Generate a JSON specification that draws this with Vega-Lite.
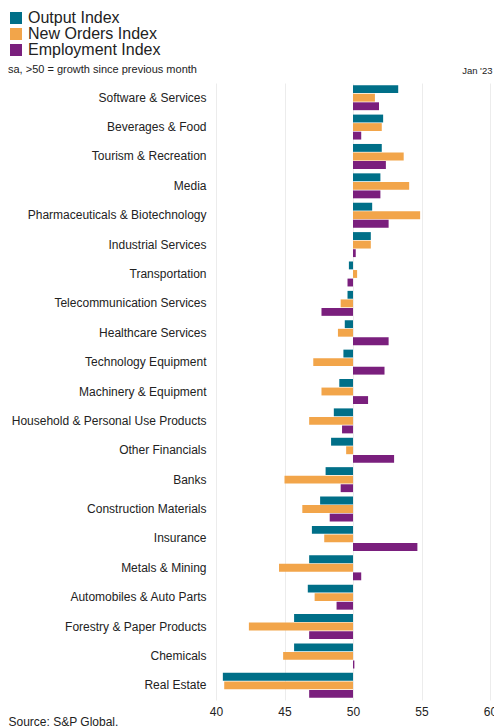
{
  "$schema": "https://vega.github.io/schema/vega-lite/v6.json",
  "width": 274,
  "height": 617,
  "autosize": {"type": "none"},
  "padding": {"left": 216, "top": 83, "right": 4, "bottom": 28},
  "background": "white",
  "config": {
    "font": "Liberation Sans",
    "view": {"stroke": null}
  },
  "data": {
    "values": [
      {"category": "Software & Services", "series": "Output Index", "value": 53.3},
      {"category": "Software & Services", "series": "New Orders Index", "value": 51.6},
      {"category": "Software & Services", "series": "Employment Index", "value": 51.9},
      {"category": "Beverages & Food", "series": "Output Index", "value": 52.2},
      {"category": "Beverages & Food", "series": "New Orders Index", "value": 52.1},
      {"category": "Beverages & Food", "series": "Employment Index", "value": 50.6},
      {"category": "Tourism & Recreation", "series": "Output Index", "value": 52.1},
      {"category": "Tourism & Recreation", "series": "New Orders Index", "value": 53.7},
      {"category": "Tourism & Recreation", "series": "Employment Index", "value": 52.4},
      {"category": "Media", "series": "Output Index", "value": 52.0},
      {"category": "Media", "series": "New Orders Index", "value": 54.1},
      {"category": "Media", "series": "Employment Index", "value": 52.0},
      {"category": "Pharmaceuticals & Biotechnology", "series": "Output Index", "value": 51.4},
      {"category": "Pharmaceuticals & Biotechnology", "series": "New Orders Index", "value": 54.9},
      {"category": "Pharmaceuticals & Biotechnology", "series": "Employment Index", "value": 52.6},
      {"category": "Industrial Services", "series": "Output Index", "value": 51.3},
      {"category": "Industrial Services", "series": "New Orders Index", "value": 51.3},
      {"category": "Industrial Services", "series": "Employment Index", "value": 50.2},
      {"category": "Transportation", "series": "Output Index", "value": 49.7},
      {"category": "Transportation", "series": "New Orders Index", "value": 50.3},
      {"category": "Transportation", "series": "Employment Index", "value": 49.6},
      {"category": "Telecommunication Services", "series": "Output Index", "value": 49.6},
      {"category": "Telecommunication Services", "series": "New Orders Index", "value": 49.1},
      {"category": "Telecommunication Services", "series": "Employment Index", "value": 47.7},
      {"category": "Healthcare Services", "series": "Output Index", "value": 49.4},
      {"category": "Healthcare Services", "series": "New Orders Index", "value": 48.9},
      {"category": "Healthcare Services", "series": "Employment Index", "value": 52.6},
      {"category": "Technology Equipment", "series": "Output Index", "value": 49.3},
      {"category": "Technology Equipment", "series": "New Orders Index", "value": 47.1},
      {"category": "Technology Equipment", "series": "Employment Index", "value": 52.3},
      {"category": "Machinery & Equipment", "series": "Output Index", "value": 49.0},
      {"category": "Machinery & Equipment", "series": "New Orders Index", "value": 47.7},
      {"category": "Machinery & Equipment", "series": "Employment Index", "value": 51.1},
      {"category": "Household & Personal Use Products", "series": "Output Index", "value": 48.6},
      {"category": "Household & Personal Use Products", "series": "New Orders Index", "value": 46.8},
      {"category": "Household & Personal Use Products", "series": "Employment Index", "value": 49.2},
      {"category": "Other Financials", "series": "Output Index", "value": 48.4},
      {"category": "Other Financials", "series": "New Orders Index", "value": 49.5},
      {"category": "Other Financials", "series": "Employment Index", "value": 53.0},
      {"category": "Banks", "series": "Output Index", "value": 48.0},
      {"category": "Banks", "series": "New Orders Index", "value": 45.0},
      {"category": "Banks", "series": "Employment Index", "value": 49.1},
      {"category": "Construction Materials", "series": "Output Index", "value": 47.6},
      {"category": "Construction Materials", "series": "New Orders Index", "value": 46.3},
      {"category": "Construction Materials", "series": "Employment Index", "value": 48.3},
      {"category": "Insurance", "series": "Output Index", "value": 47.0},
      {"category": "Insurance", "series": "New Orders Index", "value": 47.9},
      {"category": "Insurance", "series": "Employment Index", "value": 54.7},
      {"category": "Metals & Mining", "series": "Output Index", "value": 46.8},
      {"category": "Metals & Mining", "series": "New Orders Index", "value": 44.6},
      {"category": "Metals & Mining", "series": "Employment Index", "value": 50.6},
      {"category": "Automobiles & Auto Parts", "series": "Output Index", "value": 46.7},
      {"category": "Automobiles & Auto Parts", "series": "New Orders Index", "value": 47.2},
      {"category": "Automobiles & Auto Parts", "series": "Employment Index", "value": 48.8},
      {"category": "Forestry & Paper Products", "series": "Output Index", "value": 45.7},
      {"category": "Forestry & Paper Products", "series": "New Orders Index", "value": 42.4},
      {"category": "Forestry & Paper Products", "series": "Employment Index", "value": 46.8},
      {"category": "Chemicals", "series": "Output Index", "value": 45.7},
      {"category": "Chemicals", "series": "New Orders Index", "value": 44.9},
      {"category": "Chemicals", "series": "Employment Index", "value": 50.1},
      {"category": "Real Estate", "series": "Output Index", "value": 40.5},
      {"category": "Real Estate", "series": "New Orders Index", "value": 40.6},
      {"category": "Real Estate", "series": "Employment Index", "value": 46.8}
    ]
  },
  "mark": {"type": "bar", "orient": "horizontal"},
  "encoding": {
    "y": {
      "field": "category",
      "type": "nominal",
      "sort": null,
      "scale": {"paddingInner": 0.15, "paddingOuter": 0.075},
      "axis": {
        "title": "Jan '23",
        "titleAngle": 0,
        "titleAlign": "right",
        "titleBaseline": "alphabetic",
        "titleX": 276,
        "titleY": -10,
        "titleFontSize": 9.5,
        "titleFontWeight": "normal",
        "titleColor": "#222",
        "labelFontSize": 12,
        "labelColor": "#222",
        "labelPadding": 10,
        "ticks": false,
        "domain": false,
        "grid": false,
        "labelLimit": 220
      }
    },
    "yOffset": {
      "field": "series",
      "type": "nominal",
      "sort": ["Output Index", "New Orders Index", "Employment Index"],
      "scale": {"paddingInner": 0.08}
    },
    "x": {
      "field": "value",
      "type": "quantitative",
      "scale": {"domain": [40, 60], "nice": false, "zero": false},
      "axis": {
        "values": [40, 45, 50, 55, 60],
        "title": "Source: S&P Global.",
        "titleAnchor": "start",
        "titleAlign": "left",
        "titleBaseline": "alphabetic",
        "titleX": -208,
        "titleY": 25,
        "titleFontSize": 12,
        "titleFontWeight": "normal",
        "titleColor": "#222",
        "labelFontSize": 12,
        "labelColor": "#222",
        "labelPadding": 6,
        "ticks": false,
        "domain": false,
        "grid": true,
        "gridColor": "#ececec",
        "labelFlush": false
      }
    },
    "x2": {"datum": 50},
    "color": {
      "field": "series",
      "type": "nominal",
      "scale": {
        "domain": ["Output Index", "New Orders Index", "Employment Index"],
        "range": ["#006f88", "#f2a54a", "#7a1f7d"]
      },
      "legend": {
        "orient": "none",
        "legendX": -208,
        "legendY": -73,
        "title": "sa, >50 = growth since previous month",
        "titleOrient": "bottom",
        "titleLimit": 400,
        "titleFontSize": 11,
        "titleFontWeight": "normal",
        "titleColor": "#222",
        "titlePadding": 6,
        "symbolType": "square",
        "symbolSize": 144,
        "symbolStrokeWidth": 0,
        "symbolOpacity": 1,
        "labelFontSize": 16,
        "labelColor": "#222",
        "labelOffset": 4,
        "rowPadding": 0
      }
    }
  }
}
